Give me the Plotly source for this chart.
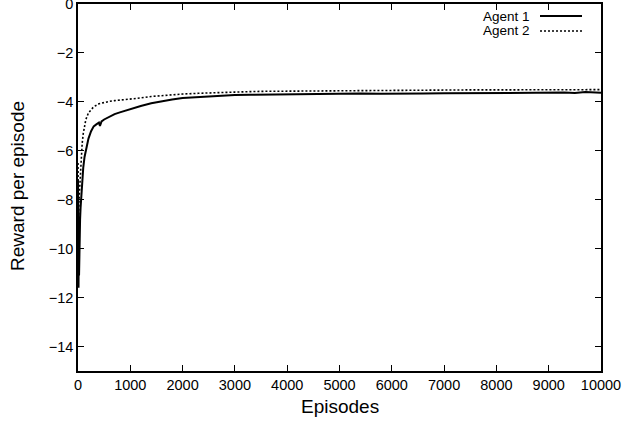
import plotly.graph_objects as go

# Agent 1 (solid)
ep1 = [0, 5, 10, 15, 20, 25, 30, 40, 50, 60, 80, 100, 125, 150, 200, 250, 300,
       350, 400, 420, 450, 500, 600, 700, 800, 900, 1000, 1200, 1400, 1600,
       1800, 2000, 2200, 2500, 2800, 3000, 3300, 3600, 4000, 4300, 4600, 5000,
       5400, 5800, 6200, 6600, 7000, 7500, 8000, 8500, 9000, 9300, 9500, 9700,
       10000]
rew1 = [-7.2, -10.8, -11.6, -9.6, -11.1, -10.0, -9.2, -8.8, -8.3, -7.9, -7.2,
        -6.7, -6.25, -5.95, -5.5, -5.2, -5.0, -4.92, -4.85, -4.98, -4.8, -4.72,
        -4.6, -4.5, -4.43, -4.36, -4.3, -4.17, -4.06, -3.97, -3.9, -3.84,
        -3.81, -3.78, -3.74, -3.72, -3.71, -3.7, -3.69, -3.68, -3.67, -3.67,
        -3.66, -3.67, -3.65, -3.66, -3.65, -3.64, -3.65, -3.64, -3.64, -3.62,
        -3.64, -3.6, -3.63]

# Agent 2 (dotted)
ep2 = [0, 5, 10, 15, 20, 30, 40, 50, 60, 80, 100, 125, 150, 200, 250, 300,
       400, 500, 600, 700, 800, 1000, 1200, 1400, 1600, 1800, 2000, 2300,
       2600, 3000, 3500, 4000, 4500, 5000, 5500, 6000, 6500, 7000, 7500, 8000,
       8500, 9000, 9500, 10000]
rew2 = [-6.5, -9.0, -9.6, -8.6, -8.0, -7.5, -7.0, -6.6, -6.25, -5.7, -5.3,
        -4.95, -4.72, -4.45, -4.3, -4.2, -4.08, -4.02, -3.98, -3.95, -3.93,
        -3.9, -3.84, -3.78, -3.74, -3.71, -3.68, -3.65, -3.62, -3.6, -3.57,
        -3.56, -3.55, -3.54, -3.53, -3.52, -3.52, -3.52, -3.51, -3.51, -3.51,
        -3.5, -3.51, -3.5]

x_ticks = [0, 1000, 2000, 3000, 4000, 5000, 6000, 7000, 8000, 9000, 10000]
y_ticks = [0, -2, -4, -6, -8, -10, -12, -14]
y_tick_labels = ["0", "\u22122", "\u22124", "\u22126", "\u22128", "\u221210", "\u221212", "\u221214"]
series_names = ["Agent 1", "Agent 2"]
x_title = "Episodes"
y_title = "Reward per episode"

FONT = "Liberation Sans, Arial, Helvetica, sans-serif"
DOT = "2px,2px"

fig = go.Figure()
fig.add_trace(go.Scatter(x=ep1, y=rew1, mode="lines", name=series_names[0],
                         line=dict(color="black", width=2)))
fig.add_trace(go.Scatter(x=ep2, y=rew2, mode="lines", name=series_names[1],
                         line=dict(color="black", width=1.6, dash=DOT)))

L, R, T, B = 78, 601, 4, 371
W, H = 638, 423

def px(xp):
    return (xp - L) / (R - L)

def py(yp):
    return (B - yp) / (B - T)

# gnuplot-style legend (text then sample line on the right)
leg_rows = [(16, "solid", 2), (31, DOT, 1.6)]
for (yy, dash, wd), name in zip(leg_rows, series_names):
    fig.add_annotation(x=px(531), y=py(yy), xref="paper", yref="paper",
                       text=name, showarrow=False, xanchor="right",
                       yanchor="middle", borderpad=0,
                       font=dict(family=FONT, size=13.5, color="black"))
    fig.add_shape(type="line", xref="paper", yref="paper",
                  x0=px(540), x1=px(582), y0=py(yy), y1=py(yy),
                  line=dict(color="black", width=wd, dash=dash))

# axis titles
fig.add_annotation(x=px(340), y=py(406), xref="paper", yref="paper", text=x_title,
                   showarrow=False, xanchor="center", yanchor="middle", borderpad=0,
                   font=dict(family=FONT, size=19, color="black"))
fig.add_annotation(x=px(17), y=py(186), xref="paper", yref="paper", text=y_title,
                   showarrow=False, xanchor="center", yanchor="middle", textangle=-90,
                   borderpad=0, font=dict(family=FONT, size=19, color="black"))

axis_common = dict(showline=True, linecolor="black", linewidth=1.5, mirror="allticks",
                   ticks="inside", ticklen=6, tickcolor="black", tickwidth=1.2,
                   showgrid=False, zeroline=False, ticklabeloverflow="allow",
                   tickfont=dict(family=FONT, size=14.5, color="black"))

fig.update_layout(
    width=W, height=H,
    margin=dict(l=L, r=W - R, t=T, b=H - B, autoexpand=False),
    plot_bgcolor="white", paper_bgcolor="white",
    showlegend=False,
    xaxis=dict(range=[0, 10000], tickvals=x_ticks,
               ticktext=[str(v) for v in x_ticks], **axis_common),
    yaxis=dict(range=[-15, 0.0001], tickvals=y_ticks, ticktext=y_tick_labels,
               **axis_common),
)

fig.write_html("out.html", config={"displayModeBar": False},
               post_script="document.body.style.margin='0';document.body.style.overflow='hidden';")
